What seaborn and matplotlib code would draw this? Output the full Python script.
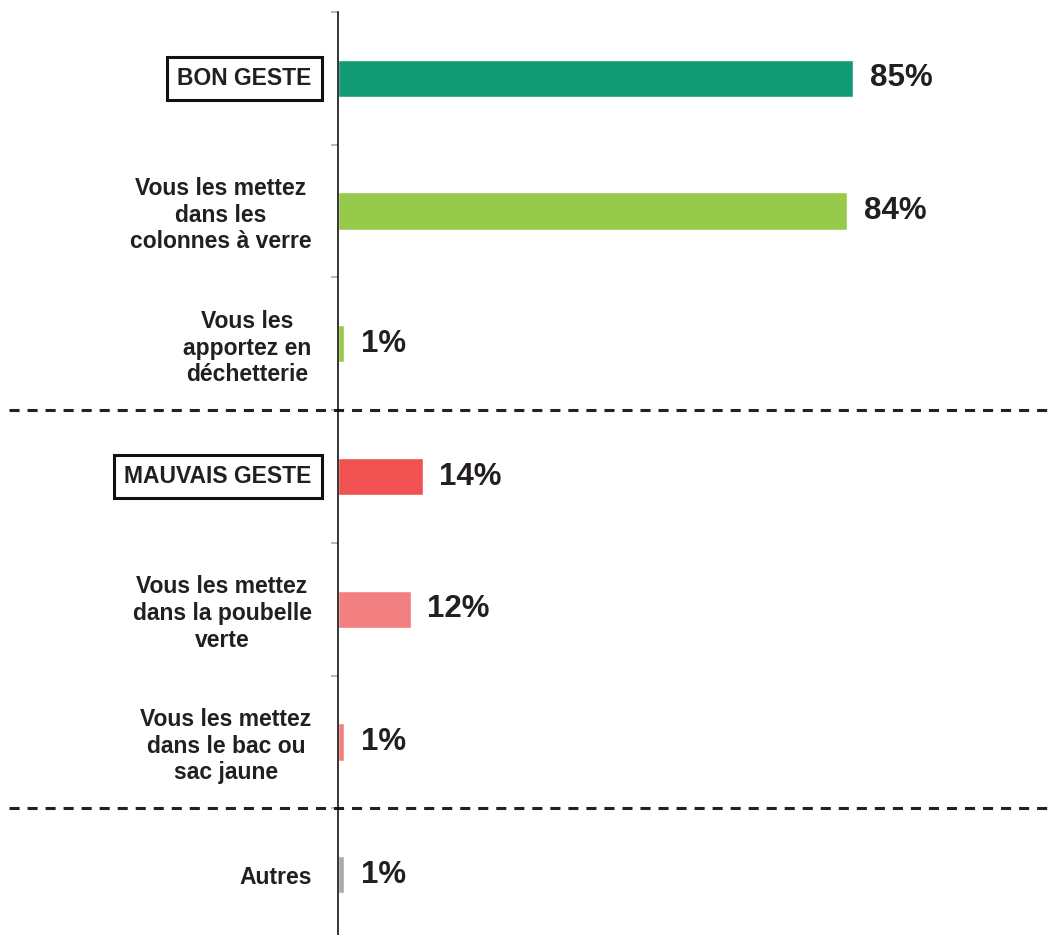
import matplotlib
matplotlib.use("Agg")
import matplotlib.pyplot as plt
import seaborn as sns
import pandas as pd

# data
labels = [
    "BON GESTE",
    "Vous les mettez\ndans les\ncolonnes à verre",
    "Vous les\napportez en\ndéchetterie",
    "MAUVAIS GESTE",
    "Vous les mettez\ndans la poubelle\nverte",
    "Vous les mettez\ndans le bac ou\nsac jaune",
    "Autres",
]
values = [85, 84, 1, 14, 12, 1, 1]
colors = ["#129a74", "#97ca4a", "#97ca4a", "#f05252", "#f38080", "#f38080", "#aaaaaa"]
boxed = ["BON GESTE", "MAUVAIS GESTE"]
separators = [2.5, 5.5]

sns.set_style("white")
plt.rcParams['font.family'] = ['Liberation Sans', 'DejaVu Sans']
text_color = "#231f20"

df = pd.DataFrame({"label": labels, "value": values})

fig = plt.figure(figsize=(10.53, 9.35), dpi=100)
ax = fig.add_axes([338 / 1053, -6 / 935, 715 / 1053, 929 / 935])
sns.barplot(data=df, x="value", y="label", hue="label", palette=colors,
            width=0.28, saturation=1, legend=False, ax=ax)

for c in ax.containers:
    ax.bar_label(c, fmt="%d%%", padding=12, fontsize=22.5, fontweight="bold", color=text_color)

ax.set_xlim(0, 118)
ax.set_ylim(6.5, -0.5)
ax.set_xlabel("")
ax.set_ylabel("")
ax.set_xticks([])
for s in ["top", "right", "bottom"]:
    ax.spines[s].set_visible(False)
ax.spines["left"].set_color("black")
ax.spines["left"].set_linewidth(1.1)

# category boundaries as small grey ticks
ax.set_yticks([i - 0.5 for i in range(7)], minor=True)
ax.tick_params(axis="y", which="minor", length=5, width=1.2, color="#aaaaaa", left=True)
ax.tick_params(axis="y", which="major", length=0, pad=19, labelsize=16.5, labelcolor=text_color)

for t in ax.get_yticklabels():
    t.set_fontweight("bold")
    t.set_multialignment("center")
    if t.get_text() in boxed:
        t.set_verticalalignment("center")
        t.set_bbox(dict(facecolor="white", edgecolor="#111111", linewidth=2.2,
                        boxstyle="square,pad=0.45"))

# dashed separators between groups
for y in separators:
    ax.axhline(y, xmin=-0.46, xmax=1, color="#222222", lw=2.2,
               ls=(0, (3.3, 2.6)), clip_on=False)

fig.savefig("out.png", dpi=100)
